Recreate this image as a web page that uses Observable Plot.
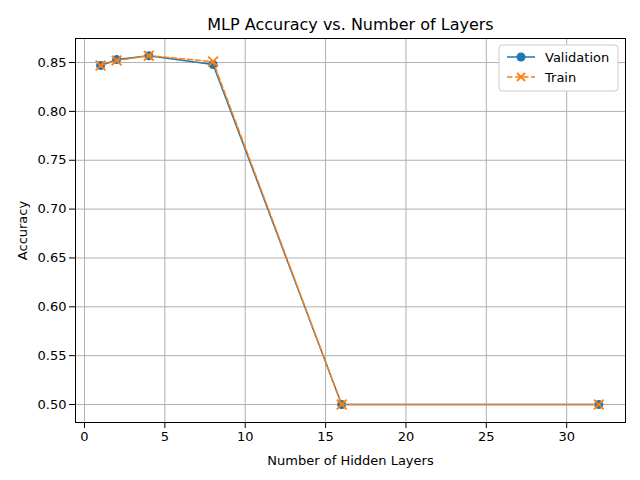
<!DOCTYPE html>
<html>
<head>
<meta charset="utf-8">
<script src="https://cdn.jsdelivr.net/npm/d3@7"></script>
<script src="https://cdn.jsdelivr.net/npm/@observablehq/plot@0.6"></script>
<style>body{margin:0;background:#fff}</style>
</head>
<body>
<div id="chart"></div>
<script>
const layers = [1, 2, 4, 8, 16, 32]
const validation = [0.847, 0.853, 0.857, 0.848, 0.500, 0.500]
const train = [0.847, 0.852, 0.857, 0.851, 0.500, 0.500]
const xTicks = [0, 5, 10, 15, 20, 25, 30]
const yTicks = [0.50, 0.55, 0.60, 0.65, 0.70, 0.75, 0.80, 0.85]

const blue = "#1f77b4", orange = "#ff7f0e"
const val = layers.map((x, i) => ({x, y: validation[i]}))
const tr = layers.map((x, i) => ({x, y: train[i]}))

let chart = Plot.plot({
  width: 640,
  height: 480,
  marginLeft: 75, marginRight: 15, marginTop: 38, marginBottom: 58,
  style: {fontSize: "13px", fontFamily: "DejaVu Sans"},
  x: {domain: [-0.56, 33.66], ticks: xTicks, label: "Number of Hidden Layers", labelAnchor: "center", labelArrow: "none", labelOffset: 42},
  y: {domain: [0.4816, 0.8746], ticks: yTicks, tickFormat: d3.format(".2f"), label: "Accuracy", labelAnchor: "center", labelArrow: "none", labelOffset: 58},
  marks: [
    Plot.gridX(xTicks, {stroke: "#b0b0b0", strokeOpacity: 1}),
    Plot.gridY(yTicks, {stroke: "#b0b0b0", strokeOpacity: 1}),
    Plot.frame({stroke: "#000"}),
    Plot.line(val, {x: "x", y: "y", stroke: blue, strokeWidth: 1.5}),
    Plot.dot(val, {x: "x", y: "y", fill: blue, r: 4.5}),
    Plot.line(tr, {x: "x", y: "y", stroke: orange, strokeWidth: 1.5, strokeDasharray: "5.5,2.5"}),
    Plot.dot(tr, {x: "x", y: "y", symbol: "times", stroke: orange, strokeWidth: 1.8, r: 4.5}),
    Plot.text(["MLP Accuracy vs. Number of Layers"], {frameAnchor: "top", dy: -20, fontSize: 16, fill: "#000"})
  ]
})
d3.select('#chart').append(() => chart)

// legend
const svg = d3.select(chart)
const g = svg.append("g").attr("transform", "translate(499,45)").style("font-family", "DejaVu Sans").style("font-size", "13px").attr("text-anchor", "start")
g.append("rect").attr("width", 119).attr("height", 46).attr("rx", 3).attr("fill", "#fff").attr("stroke", "#ccc")
g.append("line").attr("x1", 8).attr("x2", 36).attr("y1", 12).attr("y2", 12).attr("stroke", blue).attr("stroke-width", 1.5)
g.append("circle").attr("cx", 22).attr("cy", 12).attr("r", 4.5).attr("fill", blue)
g.append("text").attr("x", 46).attr("y", 16.5).attr("text-anchor", "start").text("Validation")
g.append("line").attr("x1", 8).attr("x2", 36).attr("y1", 32).attr("y2", 32).attr("stroke", orange).attr("stroke-width", 1.5).attr("stroke-dasharray", "5.5,2.5")
g.append("path").attr("d", "M18,28L26,36M18,36L26,28").attr("stroke", orange).attr("stroke-width", 1.8)
g.append("text").attr("x", 46).attr("y", 36.5).attr("text-anchor", "start").text("Train")
</script>
</body>
</html>
